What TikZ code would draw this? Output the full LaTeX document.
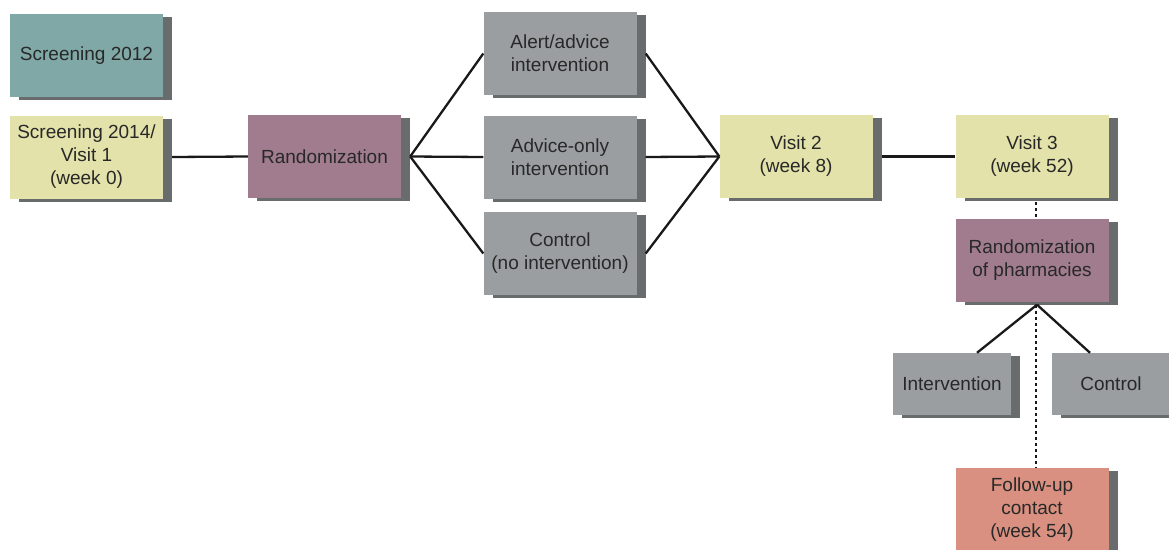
\documentclass[tikz,border=0pt]{standalone}
\usepackage{fontspec}
\setmainfont{Liberation Sans}
\usetikzlibrary{shadows}
\definecolor{cteal}{RGB}{127,168,166}
\definecolor{cyellow}{RGB}{226,226,170}
\definecolor{cmauve}{RGB}{160,124,142}
\definecolor{cgray}{RGB}{154,158,160}
\definecolor{csalmon}{RGB}{217,144,128}
\definecolor{cshadow}{RGB}{105,108,108}
\definecolor{ctext}{RGB}{40,40,40}
\tikzset{
  box/.style={rectangle, minimum width=153pt, minimum height=83pt, inner sep=2pt,
    align=center, text=ctext, font=\fontsize{19}{23}\selectfont,
    drop shadow={shadow xshift=9pt, shadow yshift=-3pt, fill=cshadow, opacity=1}},
  smallbox/.style={box, minimum width=118pt, minimum height=62pt},
  link/.style={line width=2.3pt, draw=black!90},
  dotlink/.style={line width=2.8pt, draw=black!90, dash pattern=on 3pt off 3pt}
}
\begin{document}
\begin{tikzpicture}[x=1pt, y=-1pt]
\useasboundingbox (0,0) rectangle (1169,549);
\node[box, fill=cteal] (s12) at (86.5,55.5) {Screening 2012};
\node[box, fill=cyellow] (s14) at (86.5,157) {Screening 2014/\\Visit 1\\(week 0)};
\node[box, fill=cmauve] (rand) at (324.5,156.5) {Randomization};
\node[box, fill=cgray] (alert) at (560,53.5) {Alert/advice\\intervention};
\node[box, fill=cgray] (advice) at (560,157) {Advice-only\\intervention};
\node[box, fill=cgray] (ctrl) at (560,253.5) {Control\\(no intervention)};
\node[box, fill=cyellow] (v2) at (796,156.5) {Visit 2\\(week 8)};
\node[box, fill=cyellow] (v3) at (1032,156.5) {Visit 3\\(week 52)};
\node[box, fill=cmauve] (pharm) at (1032,260) {Randomization\\of pharmacies};
\node[smallbox, fill=cgray] (interv) at (952,384) {Intervention};
\node[smallbox, fill=cgray] (ctrl2) at (1111,384) {Control};
\node[box, fill=csalmon] (follow) at (1032,509.5) {Follow-up\\contact\\(week 54)};

\draw[link] ([xshift=9pt]s14.east) -- (rand.west);
\draw[link] ([xshift=9pt]rand.east) -- (alert.west);
\draw[link] ([xshift=9pt]rand.east) -- (advice.west);
\draw[link] ([xshift=9pt]rand.east) -- (ctrl.west);
\draw[link] ([xshift=9pt]alert.east) -- (v2.west);
\draw[link] ([xshift=9pt]advice.east) -- (v2.west);
\draw[link] ([xshift=9pt]ctrl.east) -- (v2.west);
\draw[link] ([xshift=9pt]v2.east) -- (v3.west);
\draw[link] ([xshift=5pt,yshift=-3pt]pharm.south) -- ([xshift=25pt]interv.north);
\draw[link] ([xshift=5pt,yshift=-3pt]pharm.south) -- ([xshift=-21pt]ctrl2.north);
\draw[dotlink] ([xshift=4pt,yshift=-4pt]v3.south) -- ([xshift=4pt]pharm.north);
\draw[dotlink] ([xshift=4pt,yshift=-3pt]pharm.south) -- ([xshift=4pt]follow.north);
\end{tikzpicture}
\end{document}
